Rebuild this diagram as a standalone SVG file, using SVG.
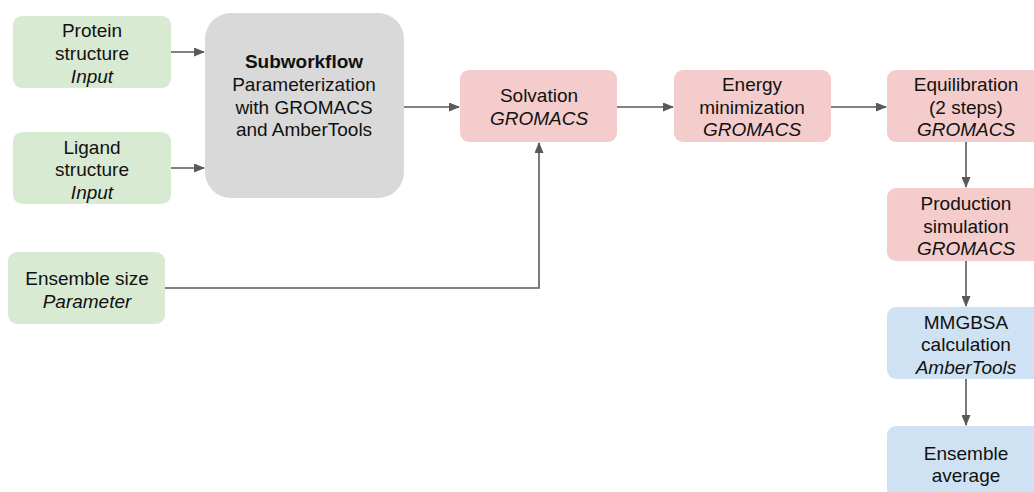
<svg xmlns="http://www.w3.org/2000/svg" width="1034" height="492" viewBox="0 0 1034 492">
<defs>
<style>
text{font-family:"Liberation Sans",Arial,sans-serif;font-size:19px;fill:#111;text-anchor:middle}
.i{font-style:italic}
.b{font-weight:bold}
.g{fill:#d9ead3}
.s{fill:#d9d9d9}
.r{fill:#f4cccc}
.u{fill:#cfe2f3}
.c{fill:none;stroke:#595959;stroke-width:1.6}
</style>
<marker id="ah" markerWidth="11" markerHeight="9" refX="10" refY="4.5" orient="auto" markerUnits="userSpaceOnUse">
<path d="M0,0 L11,4.5 L0,9 Z" fill="#595959"/>
</marker>
</defs>
<rect width="1034" height="492" fill="#fff"/>
<g id="connectors">
<path class="c" d="M171,52 H204" marker-end="url(#ah)"/>
<path class="c" d="M171,168 H204" marker-end="url(#ah)"/>
<path class="c" d="M404,107 H459" marker-end="url(#ah)"/>
<path class="c" d="M617,107 H673" marker-end="url(#ah)"/>
<path class="c" d="M831,107 H886" marker-end="url(#ah)"/>
<path class="c" d="M165,288 H539 V143" marker-end="url(#ah)"/>
<path class="c" d="M966,142 V187" marker-end="url(#ah)"/>
<path class="c" d="M966,261 V306" marker-end="url(#ah)"/>
<path class="c" d="M966,379 V425" marker-end="url(#ah)"/>
</g>
<g id="protein">
<rect class="g" x="13" y="16" width="158" height="72" rx="9"/>
<text x="92" y="37">Protein</text>
<text x="92" y="60">structure</text>
<text x="92" y="83" class="i">Input</text>
</g>
<g id="ligand">
<rect class="g" x="13" y="132" width="158" height="72" rx="9"/>
<text x="92" y="154">Ligand</text>
<text x="92" y="176">structure</text>
<text x="92" y="199" class="i">Input</text>
</g>
<g id="ensemble-size">
<rect class="g" x="8" y="252" width="157" height="72" rx="9"/>
<text x="87" y="285">Ensemble size</text>
<text x="87" y="308" class="i">Parameter</text>
</g>
<g id="subworkflow">
<rect class="s" x="205" y="13" width="199" height="185" rx="26"/>
<text x="304" y="68" class="b">Subworkflow</text>
<text x="304" y="91">Parameterization</text>
<text x="304" y="114">with GROMACS</text>
<text x="304" y="136">and AmberTools</text>
</g>
<g id="solvation">
<rect class="r" x="460" y="70" width="157" height="72" rx="9"/>
<text x="539" y="102">Solvation</text>
<text x="539" y="125" class="i">GROMACS</text>
</g>
<g id="energy">
<rect class="r" x="674" y="70" width="157" height="72" rx="9"/>
<text x="752" y="91">Energy</text>
<text x="752" y="114">minimization</text>
<text x="752" y="136" class="i">GROMACS</text>
</g>
<g id="equilibration">
<rect class="r" x="887" y="70" width="158" height="72" rx="9"/>
<text x="966" y="91">Equilibration</text>
<text x="966" y="114">(2 steps)</text>
<text x="966" y="136" class="i">GROMACS</text>
</g>
<g id="production">
<rect class="r" x="887" y="188" width="158" height="73" rx="9"/>
<text x="966" y="210">Production</text>
<text x="966" y="233">simulation</text>
<text x="966" y="255" class="i">GROMACS</text>
</g>
<g id="mmgbsa">
<rect class="u" x="887" y="307" width="158" height="72" rx="9"/>
<text x="966" y="329">MMGBSA</text>
<text x="966" y="351">calculation</text>
<text x="966" y="374" class="i">AmberTools</text>
</g>
<g id="ensemble-average">
<rect class="u" x="887" y="426" width="158" height="72" rx="9"/>
<text x="966" y="460">Ensemble</text>
<text x="966" y="482">average</text>
</g>
</svg>
